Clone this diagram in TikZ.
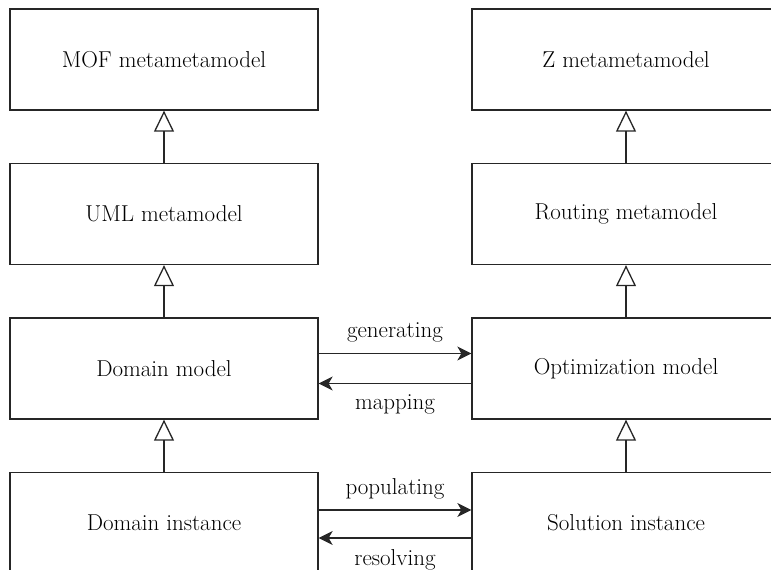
\documentclass[tikz,border=0pt]{standalone}
\usepackage{fontspec}
\setmainfont{Latin Modern Roman}
\usetikzlibrary{arrows.meta}
\begin{document}
\begin{tikzpicture}[x=1pt,y=-1pt,
  every node/.style={font=\fontsize{23}{28}\selectfont},
  box/.style={draw=black!85, line width=1.3pt, minimum width=308pt, minimum height=101pt, inner sep=0pt},
  inh/.style={draw=black!85, line width=1.3pt, -{Triangle[open, length=21pt, width=20pt, line width=1.3pt]}},
  flow/.style={draw=black!85, line width=1.3pt, -{Stealth[length=14pt, width=14pt, inset=4pt]}},
  lbl/.style={inner sep=0pt}]
\useasboundingbox (0,0) rectangle (771,570);
\clip (0,0) rectangle (771,570);
% left column
\node[box] (mof) at (164,59.5) {MOF metametamodel};
\node[box] (uml) at (164,214) {UML metamodel};
\node[box] (dom) at (164,368.5) {Domain model};
\node[box] (din) at (164,523) {Domain instance};
% right column
\node[box] (zmm) at (626,59.5) {Z metametamodel};
\node[box] (rout) at (626,214) {Routing metamodel};
\node[box] (opt) at (626,368.5) {Optimization model};
\node[box] (sol) at (626,523) {Solution instance};
% instance-of relations
\draw[inh] (uml) -- (mof);
\draw[inh] (dom) -- (uml);
\draw[inh] (din) -- (dom);
\draw[inh] (rout) -- (zmm);
\draw[inh] (opt) -- (rout);
\draw[inh] (sol) -- (opt);
% transformations between the two sides
\draw[flow] ([yshift=15pt]dom.east) -- node[lbl, above=11pt] {generating} ([yshift=15pt]opt.west);
\draw[flow] ([yshift=-15pt]opt.west) -- node[lbl, below=11pt] {mapping} ([yshift=-15pt]dom.east);
\draw[flow] ([yshift=13pt]din.east) -- node[lbl, above=10pt] {populating} ([yshift=13pt]sol.west);
\draw[flow] ([yshift=-15pt]sol.west) -- node[lbl, below=11pt] {resolving} ([yshift=-15pt]din.east);
\end{tikzpicture}
\end{document}
